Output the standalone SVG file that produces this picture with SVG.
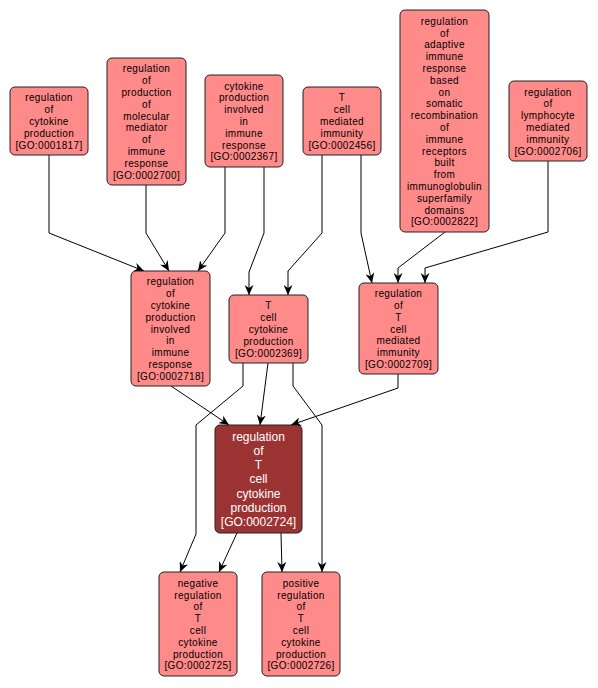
<svg xmlns="http://www.w3.org/2000/svg" width="598" height="688" viewBox="0 0 598 688">
<style>
.node rect{fill:#ff8a8a;stroke:#222;stroke-width:1}
.node text{font-family:"Liberation Sans",Arial,sans-serif;font-size:10px;letter-spacing:0.35px;fill:#000;text-anchor:middle}
.dark rect{fill:#9b3333;stroke:#222;stroke-width:1}
.dark text{font-family:"Liberation Sans",Arial,sans-serif;font-size:12px;fill:#fff;text-anchor:middle}
.edges path{fill:none;stroke:#000;stroke-width:1;marker-end:url(#arr)}
</style>
<defs>
<marker id="arr" markerUnits="userSpaceOnUse" viewBox="0 0 10 9" refX="10" refY="4.5" markerWidth="10" markerHeight="9" orient="auto">
<path d="M0,0 L10,4.5 L0,9 L3,4.5 z" fill="#000"/>
</marker>
</defs>
<rect width="598" height="688" fill="#fff"/>
<g class="edges">
<path d="M49,155 L49,233 L144,271"/>
<path d="M146,185 L146,233 L169,271"/>
<path d="M225,167 L225,233 L198,271"/>
<path d="M264,167 L264,233 L249,272 L249,295"/>
<path d="M322,155 L322,233 L288,271 L288,295"/>
<path d="M361,155 L361,233 L372,283"/>
<path d="M445,232 L398,268 L398,283"/>
<path d="M548,161 L548,232 L425,268 L425,283"/>
<path d="M171,386 L229,425"/>
<path d="M268,363 L260,425"/>
<path d="M398,374 L398,388 L291,425"/>
<path d="M243,363 L243,386 L196,425 L196,534 L180,572"/>
<path d="M237,533 L219,572"/>
<path d="M281,533 L282,572"/>
<path d="M293,363 L293,386 L322,425 L322,572"/>
</g>
<g id="GO0001817" class="node"><rect x="10" y="87" width="78" height="68" rx="5"/>
<text x="49" y="101.4"><tspan x="49">regulation</tspan><tspan x="49" dy="11.8">of</tspan><tspan x="49" dy="11.8">cytokine</tspan><tspan x="49" dy="11.8">production</tspan><tspan x="49" dy="11.8">[GO:0001817]</tspan></text></g>
<g id="GO0002700" class="node"><rect x="107" y="58" width="79" height="127" rx="5"/>
<text x="146.5" y="72.4"><tspan x="146.5">regulation</tspan><tspan x="146.5" dy="11.8">of</tspan><tspan x="146.5" dy="11.8">production</tspan><tspan x="146.5" dy="11.8">of</tspan><tspan x="146.5" dy="11.8">molecular</tspan><tspan x="146.5" dy="11.8">mediator</tspan><tspan x="146.5" dy="11.8">of</tspan><tspan x="146.5" dy="11.8">immune</tspan><tspan x="146.5" dy="11.8">response</tspan><tspan x="146.5" dy="11.8">[GO:0002700]</tspan></text></g>
<g id="GO0002367" class="node"><rect x="205" y="75" width="78" height="92" rx="5"/>
<text x="244" y="89.6"><tspan x="244">cytokine</tspan><tspan x="244" dy="11.8">production</tspan><tspan x="244" dy="11.8">involved</tspan><tspan x="244" dy="11.8">in</tspan><tspan x="244" dy="11.8">immune</tspan><tspan x="244" dy="11.8">response</tspan><tspan x="244" dy="11.8">[GO:0002367]</tspan></text></g>
<g id="GO0002456" class="node"><rect x="303" y="87" width="78" height="68" rx="5"/>
<text x="342" y="101.4"><tspan x="342">T</tspan><tspan x="342" dy="11.8">cell</tspan><tspan x="342" dy="11.8">mediated</tspan><tspan x="342" dy="11.8">immunity</tspan><tspan x="342" dy="11.8">[GO:0002456]</tspan></text></g>
<g id="GO0002822" class="node"><rect x="400" y="10" width="89" height="222" rx="5"/>
<text x="444.5" y="24.7"><tspan x="444.5">regulation</tspan><tspan x="444.5" dy="11.8">of</tspan><tspan x="444.5" dy="11.8">adaptive</tspan><tspan x="444.5" dy="11.8">immune</tspan><tspan x="444.5" dy="11.8">response</tspan><tspan x="444.5" dy="11.8">based</tspan><tspan x="444.5" dy="11.8">on</tspan><tspan x="444.5" dy="11.8">somatic</tspan><tspan x="444.5" dy="11.8">recombination</tspan><tspan x="444.5" dy="11.8">of</tspan><tspan x="444.5" dy="11.8">immune</tspan><tspan x="444.5" dy="11.8">receptors</tspan><tspan x="444.5" dy="11.8">built</tspan><tspan x="444.5" dy="11.8">from</tspan><tspan x="444.5" dy="11.8">immunoglobulin</tspan><tspan x="444.5" dy="11.8">superfamily</tspan><tspan x="444.5" dy="11.8">domains</tspan><tspan x="444.5" dy="11.8">[GO:0002822]</tspan></text></g>
<g id="GO0002706" class="node"><rect x="509" y="81" width="78" height="80" rx="5"/>
<text x="548" y="95.5"><tspan x="548">regulation</tspan><tspan x="548" dy="11.8">of</tspan><tspan x="548" dy="11.8">lymphocyte</tspan><tspan x="548" dy="11.8">mediated</tspan><tspan x="548" dy="11.8">immunity</tspan><tspan x="548" dy="11.8">[GO:0002706]</tspan></text></g>
<g id="GO0002718" class="node"><rect x="131" y="271" width="79" height="115" rx="5"/>
<text x="170.5" y="285.3"><tspan x="170.5">regulation</tspan><tspan x="170.5" dy="11.8">of</tspan><tspan x="170.5" dy="11.8">cytokine</tspan><tspan x="170.5" dy="11.8">production</tspan><tspan x="170.5" dy="11.8">involved</tspan><tspan x="170.5" dy="11.8">in</tspan><tspan x="170.5" dy="11.8">immune</tspan><tspan x="170.5" dy="11.8">response</tspan><tspan x="170.5" dy="11.8">[GO:0002718]</tspan></text></g>
<g id="GO0002369" class="node"><rect x="229" y="295" width="79" height="68" rx="5"/>
<text x="268.5" y="309.4"><tspan x="268.5">T</tspan><tspan x="268.5" dy="11.8">cell</tspan><tspan x="268.5" dy="11.8">cytokine</tspan><tspan x="268.5" dy="11.8">production</tspan><tspan x="268.5" dy="11.8">[GO:0002369]</tspan></text></g>
<g id="GO0002709" class="node"><rect x="359" y="283" width="79" height="91" rx="5"/>
<text x="398.5" y="297.1"><tspan x="398.5">regulation</tspan><tspan x="398.5" dy="11.8">of</tspan><tspan x="398.5" dy="11.8">T</tspan><tspan x="398.5" dy="11.8">cell</tspan><tspan x="398.5" dy="11.8">mediated</tspan><tspan x="398.5" dy="11.8">immunity</tspan><tspan x="398.5" dy="11.8">[GO:0002709]</tspan></text></g>
<g id="GO0002724" class="dark"><rect x="215" y="425" width="87" height="108" rx="5"/>
<text x="258.5" y="440.7"><tspan x="258.5">regulation</tspan><tspan x="258.5" dy="14.2">of</tspan><tspan x="258.5" dy="14.2">T</tspan><tspan x="258.5" dy="14.2">cell</tspan><tspan x="258.5" dy="14.2">cytokine</tspan><tspan x="258.5" dy="14.2">production</tspan><tspan x="258.5" dy="14.2">[GO:0002724]</tspan></text></g>
<g id="GO0002725" class="node"><rect x="159" y="572" width="78" height="104" rx="5"/>
<text x="198" y="586.7"><tspan x="198">negative</tspan><tspan x="198" dy="11.8">regulation</tspan><tspan x="198" dy="11.8">of</tspan><tspan x="198" dy="11.8">T</tspan><tspan x="198" dy="11.8">cell</tspan><tspan x="198" dy="11.8">cytokine</tspan><tspan x="198" dy="11.8">production</tspan><tspan x="198" dy="11.8">[GO:0002725]</tspan></text></g>
<g id="GO0002726" class="node"><rect x="262" y="572" width="78" height="104" rx="5"/>
<text x="301" y="586.7"><tspan x="301">positive</tspan><tspan x="301" dy="11.8">regulation</tspan><tspan x="301" dy="11.8">of</tspan><tspan x="301" dy="11.8">T</tspan><tspan x="301" dy="11.8">cell</tspan><tspan x="301" dy="11.8">cytokine</tspan><tspan x="301" dy="11.8">production</tspan><tspan x="301" dy="11.8">[GO:0002726]</tspan></text></g>
</svg>
